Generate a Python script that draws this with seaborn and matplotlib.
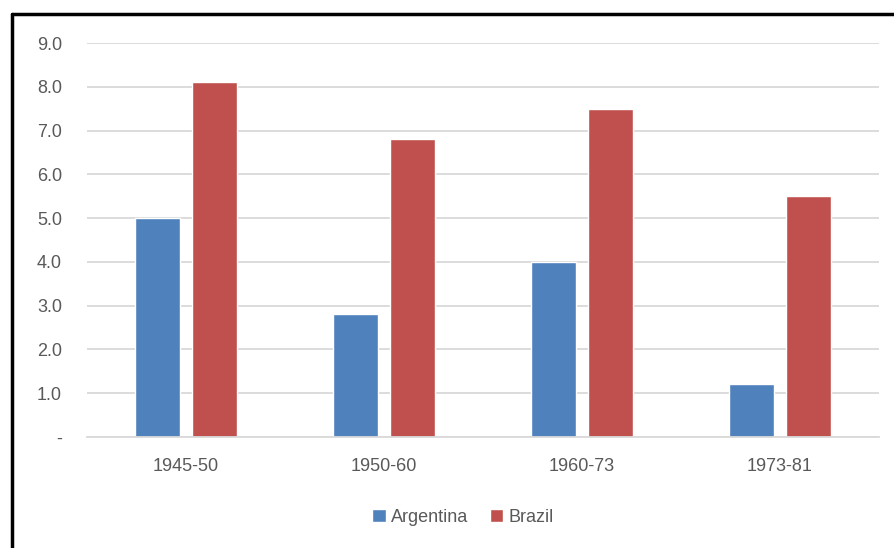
import matplotlib
matplotlib.use("Agg")
import matplotlib.pyplot as plt
import seaborn as sns
import pandas as pd
from matplotlib.lines import Line2D

periods = ["1945-50", "1950-60", "1960-73", "1973-81"]
argentina = [5.0, 2.8, 4.0, 1.2]
brazil = [8.1, 6.8, 7.5, 5.5]
series_names = ["Argentina", "Brazil"]
y_ticks = [0, 1, 2, 3, 4, 5, 6, 7, 8, 9]
y_tick_labels = ["-", "1.0", "2.0", "3.0", "4.0", "5.0", "6.0", "7.0", "8.0", "9.0"]

df = pd.DataFrame({
    "period": periods * 2,
    "value": argentina + brazil,
    "country": [series_names[0]] * 4 + [series_names[1]] * 4,
})

sns.set_theme(style="white")
plt.rcParams["font.family"] = ["Liberation Sans", "DejaVu Sans"]

fig = plt.figure(figsize=(8.94, 5.48), dpi=100)
ax = fig.add_axes([87 / 894, 1 - 437 / 548, (879 - 87) / 894, (437 - 43) / 548])

sns.barplot(data=df, x="period", y="value", hue="country",
            palette=["#4F81BD", "#C0504D"], width=0.57, gap=0.2,
            saturation=1, ax=ax, legend=True)

ax.set_ylim(0, 9)
ax.set_xlim(-0.5, 3.5)
ax.set_yticks(y_ticks)
ax.set_yticklabels(y_tick_labels)
ax.yaxis.grid(True, color="#D9D9D9", linewidth=1.3)
ax.set_axisbelow(True)
for s in ["top", "right", "left"]:
    ax.spines[s].set_visible(False)
ax.spines["bottom"].set_color("#D9D9D9")
ax.spines["bottom"].set_linewidth(1.3)
ax.set_xlabel("")
ax.set_ylabel("")
ax.tick_params(axis="y", length=0, pad=18, labelsize=13, labelcolor="#595959")
ax.tick_params(axis="x", length=0, pad=15, labelsize=13, labelcolor="#595959")

handles, labels = ax.get_legend_handles_labels()
ax.legend(handles, labels, loc="center", bbox_to_anchor=(463 / 894, 1 - 517 / 548),
          bbox_transform=fig.transFigure, ncol=2, frameon=False, fontsize=13,
          handlelength=0.75, handleheight=0.75, handletextpad=0.3, columnspacing=1.2,
          labelcolor="#595959")

fig.add_artist(Line2D([11.5 / 894, 1.0], [1 - 14 / 548, 1 - 14 / 548], color="black",
                      linewidth=2.5, transform=fig.transFigure))
fig.add_artist(Line2D([11.5 / 894, 11.5 / 894], [0, 1 - 14 / 548], color="black",
                      linewidth=2.5, transform=fig.transFigure))

fig.savefig("out.png", dpi=100, facecolor="white")
